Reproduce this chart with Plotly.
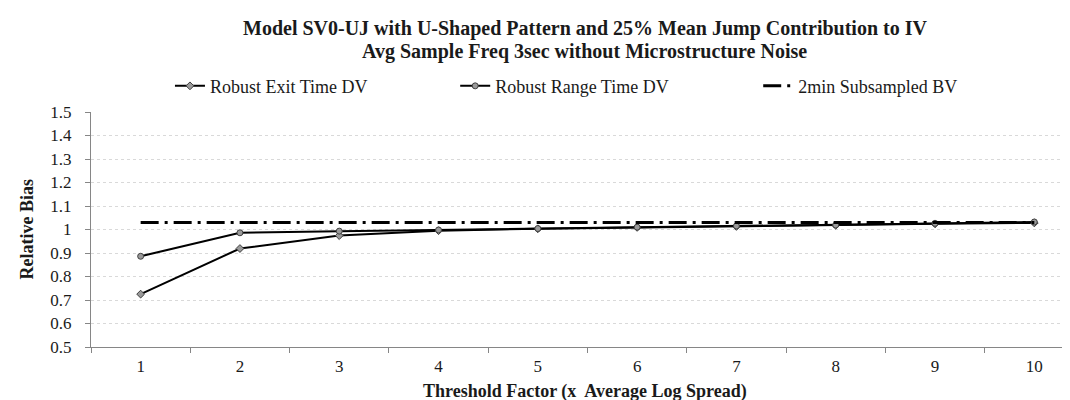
import plotly.graph_objects as go

categories = ["1", "2", "3", "4", "5", "6", "7", "8", "9", "10"]
exit_time_dv = [0.725, 0.919, 0.974, 0.995, 1.003, 1.009, 1.013, 1.018, 1.024, 1.028]
range_time_dv = [0.886, 0.986, 0.993, 0.998, 1.004, 1.010, 1.015, 1.019, 1.026, 1.032]
subsampled_bv = [1.03, 1.03, 1.03, 1.03, 1.03, 1.03, 1.03, 1.03, 1.03, 1.03]

title_lines = [
    "Model SV0-UJ with U-Shaped Pattern and 25% Mean Jump Contribution to IV",
    "Avg Sample Freq 3sec without Microstructure Noise",
]
x_title = "Threshold Factor (x  Average Log Spread)"
y_title = "Relative Bias"

FONT = "Liberation Serif"
TXT = "#1a1a1a"

fig = go.Figure()
fig.add_trace(go.Scatter(
    x=categories, y=exit_time_dv, name="Robust Exit Time DV",
    mode="lines+markers", legend="legend",
    line=dict(color="black", width=2),
    marker=dict(symbol="diamond", size=6, color="#9a9a9a", line=dict(color="#404040", width=1)),
))
fig.add_trace(go.Scatter(
    x=categories, y=range_time_dv, name="Robust Range Time DV",
    mode="lines+markers", legend="legend2",
    line=dict(color="black", width=2),
    marker=dict(symbol="circle", size=6, color="#9a9a9a", line=dict(color="#404040", width=1)),
))
fig.add_trace(go.Scatter(
    x=categories, y=subsampled_bv, name="2min Subsampled BV",
    mode="lines", legend="legend3",
    line=dict(color="black", width=3, dash="18px,6px,3px,6px"),
))

annotations = [
    dict(text=title_lines[0], xref="paper", yref="paper", x=0.5, y=1, yshift=84,
         xanchor="center", yanchor="middle", showarrow=False,
         font=dict(family=FONT, size=20, weight="bold", color=TXT)),
    dict(text=title_lines[1], xref="paper", yref="paper", x=0.5, y=1, yshift=61,
         xanchor="center", yanchor="middle", showarrow=False,
         font=dict(family=FONT, size=20, weight="bold", color=TXT)),
    dict(text=x_title, xref="paper", yref="paper", x=0.5, y=0, yshift=-44,
         xanchor="center", yanchor="middle", showarrow=False,
         font=dict(family=FONT, size=18, weight="bold", color=TXT)),
    dict(text=y_title, xref="paper", yref="paper", x=0, y=0.5, xshift=-65,
         xanchor="center", yanchor="middle", textangle=-90, showarrow=False,
         font=dict(family=FONT, size=18, weight="bold", color=TXT)),
]

def legend_box(xpos):
    return dict(
        orientation="h", x=xpos, xanchor="left", y=1.11, yanchor="middle",
        font=dict(family=FONT, size=18, color=TXT), bgcolor="rgba(0,0,0,0)",
    )

fig.update_layout(
    width=1070, height=400,
    margin=dict(l=83, r=0, t=104, b=61),
    paper_bgcolor="white", plot_bgcolor="white",
    font=dict(family=FONT, size=17, color=TXT),
    showlegend=True,
    legend=legend_box(0.080),
    legend2=legend_box(0.369),
    legend3=legend_box(0.676),
    xaxis=dict(
        type="category", range=[-0.5, 9.44],
        showline=True, linecolor="#868686", linewidth=1,
        ticks="outside", tickson="boundaries", ticklen=5, tickcolor="#868686",
        showgrid=False, tickfont=dict(family=FONT, size=17, color=TXT),
        ticklabelstandoff=4,
    ),
    yaxis=dict(
        range=[0.5, 1.5], dtick=0.1, tick0=0.5,
        showline=True, linecolor="#868686", linewidth=1,
        ticks="outside", ticklen=5, tickcolor="#868686",
        showgrid=True, gridcolor="#d9d9d9", griddash="dot", gridwidth=1,
        zeroline=False, tickfont=dict(family=FONT, size=17, color=TXT),
        ticklabelstandoff=10,
    ),
    annotations=annotations,
)

fig.write_html("out.html")
